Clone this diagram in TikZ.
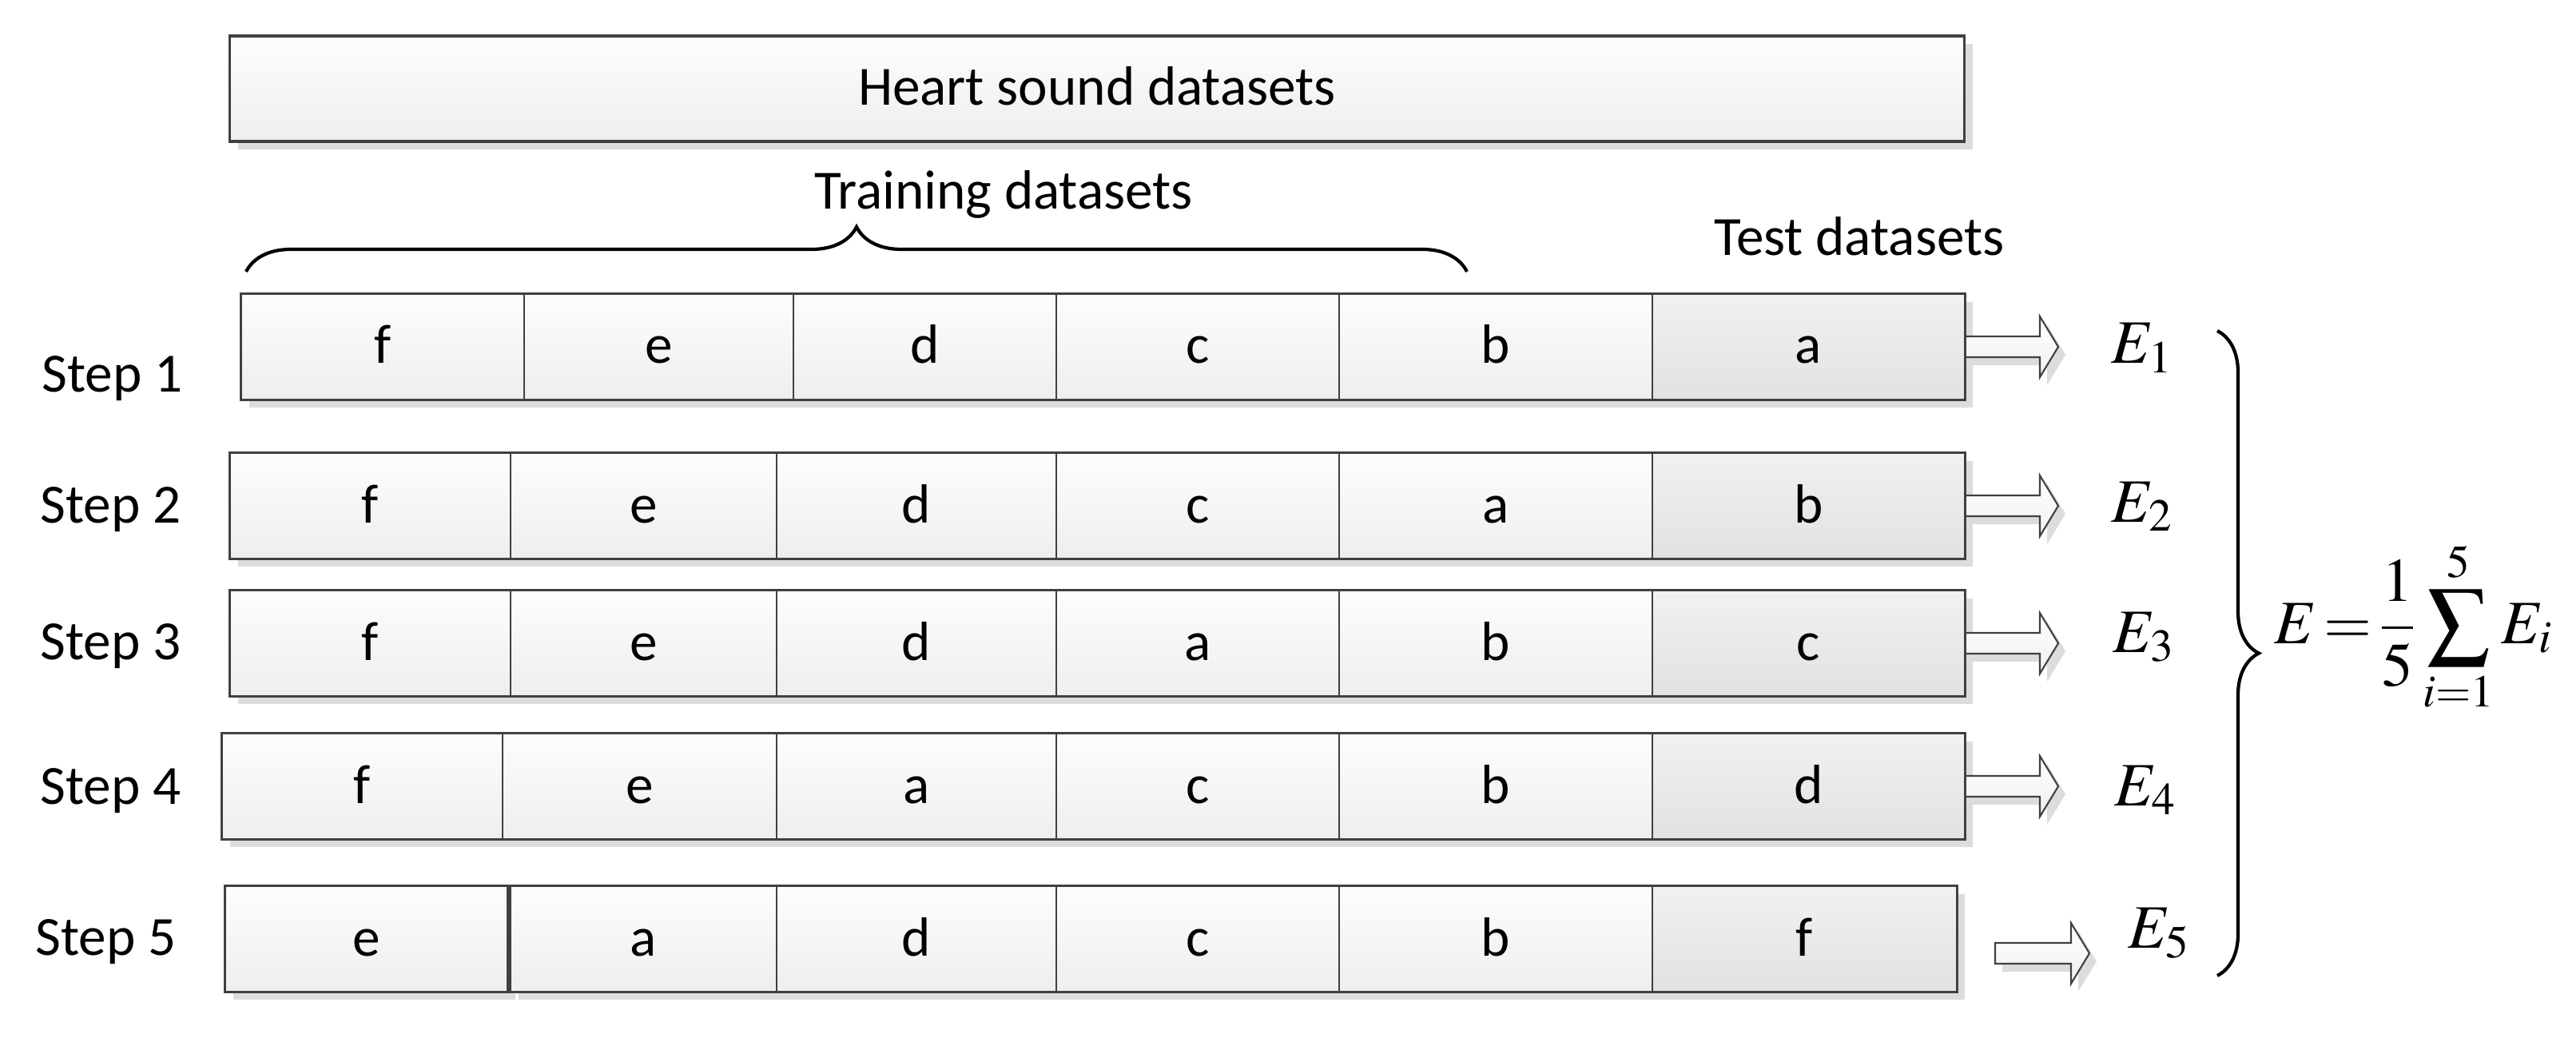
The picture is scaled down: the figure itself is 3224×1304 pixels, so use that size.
\documentclass[tikz,border=0pt]{standalone}
\usepackage{mathptmx}
\usepackage{fontspec}
\setmainfont{Carlito}
\usetikzlibrary{positioning, calc, shadows, decorations.pathreplacing}
\definecolor{edgecolor}{RGB}{64,64,64}
\definecolor{shadecolor}{RGB}{220,220,220}
\definecolor{traintop}{RGB}{253,253,253}
\definecolor{trainbottom}{RGB}{238,238,238}
\definecolor{testtop}{RGB}{241,241,241}
\definecolor{testbottom}{RGB}{226,226,226}
\newcommand{\labelfont}{\fontsize{19.7}{23}\selectfont}
\newcommand{\eqfont}{\fontsize{22}{26}\selectfont}
\newcommand{\blockarrow}[2]{%
  \fill[shadecolor] ($(#1)+(9,-3)$) -- ($(#2)+(-14,-3)$) -- ($(#2)+(-14,-28)$) -- ($(#2)+(9,10)$)
    -- ($(#2)+(-14,48)$) -- ($(#2)+(-14,23)$) -- ($(#1)+(9,23)$) -- cycle;
  \draw[arrowbox] ($(#1)+(0,-13)$) -- ($(#2)+(-23,-13)$) -- ($(#2)+(-23,-38)$) -- (#2)
    -- ($(#2)+(-23,38)$) -- ($(#2)+(-23,13)$) -- ($(#1)+(0,13)$) -- cycle;}
\tikzset{
  cellbox/.style={draw=edgecolor, line width=0.4pt, top color=traintop, bottom color=trainbottom,
    minimum height=13.2mm, inner sep=0pt, text height=4.2mm, text depth=0mm, font=\labelfont,
    drop shadow={shadow xshift=1mm, shadow yshift=-1mm, fill=shadecolor, opacity=1}},
  testbox/.style={cellbox, top color=testtop, bottom color=testbottom},
  rowline/.style={draw=edgecolor, line width=0.9pt},
  arrowbox/.style={draw=edgecolor, line width=0.6pt, top color=white, bottom color=black!6},
  bracestyle/.style={decorate, decoration={brace, amplitude=#1}, line width=1.2pt},
  steplabel/.style={anchor=base west, font=\labelfont, inner sep=0pt},
  errlabel/.style={anchor=base west, font=\eqfont, inner sep=0pt}
}

\begin{document}
\begin{tikzpicture}[x=0.1mm, y=-0.1mm]
\useasboundingbox (0,0) rectangle (3224,1304);

% whole dataset
\node[cellbox, line width=0.9pt, minimum width=217.1mm] (heart) at (1373,111) {Heart sound datasets};

% Step 1
\foreach \l/\r/\t/\s [count=\j] in {302/656/f/cellbox, 656/993/e/cellbox, 993/1322/d/cellbox,
    1322/1676/c/cellbox, 1676/2068/b/cellbox, 2068/2459/a/testbox}
  \node[\s, minimum width={(\r-\l)*0.1mm}] (r1c\j) at ({(\l+\r)/2},434) {\t};
\draw[rowline] (r1c1.north west) rectangle (r1c6.south east);

% Step 2
\foreach \l/\r/\t/\s [count=\j] in {288/639/f/cellbox, 639/972/e/cellbox, 972/1322/d/cellbox,
    1322/1676/c/cellbox, 1676/2068/a/cellbox, 2068/2459/b/testbox}
  \node[\s, minimum width={(\r-\l)*0.1mm}] (r2c\j) at ({(\l+\r)/2},633) {\t};
\draw[rowline] (r2c1.north west) rectangle (r2c6.south east);

% Step 3
\foreach \l/\r/\t/\s [count=\j] in {288/639/f/cellbox, 639/972/e/cellbox, 972/1322/d/cellbox,
    1322/1676/a/cellbox, 1676/2068/b/cellbox, 2068/2459/c/testbox}
  \node[\s, minimum width={(\r-\l)*0.1mm}] (r3c\j) at ({(\l+\r)/2},805) {\t};
\draw[rowline] (r3c1.north west) rectangle (r3c6.south east);

% Step 4
\foreach \l/\r/\t/\s [count=\j] in {278/629/f/cellbox, 629/972/e/cellbox, 972/1322/a/cellbox,
    1322/1676/c/cellbox, 1676/2068/b/cellbox, 2068/2459/d/testbox}
  \node[\s, minimum width={(\r-\l)*0.1mm}] (r4c\j) at ({(\l+\r)/2},984) {\t};
\draw[rowline] (r4c1.north west) rectangle (r4c6.south east);

% Step 5
\foreach \l/\r/\t/\s [count=\j] in {282/635/e/cellbox, 639/972/a/cellbox, 972/1322/d/cellbox,
    1322/1676/c/cellbox, 1676/2068/b/cellbox, 2068/2449/f/testbox}
  \node[\s, minimum width={(\r-\l)*0.1mm}] (r5c\j) at ({(\l+\r)/2},1175) {\t};
\draw[rowline] (r5c1.north west) rectangle (r5c1.south east);
\draw[rowline] (r5c2.north west) rectangle (r5c6.south east);

% step names
\node[steplabel] (step1) at (52,491) {Step 1};
\node[steplabel] (step2) at (50,654) {Step 2};
\node[steplabel] (step3) at (50,825) {Step 3};
\node[steplabel] (step4) at (50,1006) {Step 4};
\node[steplabel] (step5) at (44,1195) {Step 5};

% training / test
\coordinate (trainL) at (308,340);
\coordinate (trainR) at (1836,340);
\draw[bracestyle=5.6mm] (trainL) -- (trainR);
\node[font=\labelfont] (train) at (1256,243) {Training datasets};
\node[font=\labelfont] (test) at (2327,296) {Test datasets};

% errors
\node[errlabel] (e1) at (2642,455) {$E_1$};
\node[errlabel] (e2) at (2642,653) {$E_2$};
\node[errlabel] (e3) at (2644,816) {$E_3$};
\node[errlabel] (e4) at (2646,1008) {$E_4$};
\node[errlabel] (e5) at (2663,1186) {$E_5$};

\coordinate (tip1) at (2576,434);
\coordinate (tip2) at (2576,633);
\coordinate (tip3) at (2576,805);
\coordinate (tip4) at (2576,984);
\coordinate (from5) at (2497,1193);
\coordinate (tip5) at (2615,1193);
\foreach \i in {1,...,4} {
  \blockarrow{r\i c6.east}{tip\i}
}
\blockarrow{from5}{tip5}

% average
\coordinate (sumT) at (2775,414);
\coordinate (sumB) at (2775,1221);
\draw[bracestyle=5.2mm] (sumT) -- (sumB);
\node[errlabel] (avg) at (2846,805) {$\displaystyle E\!=\!\frac{1}{5}\sum_{i=1}^{5}E_i$};
\end{tikzpicture}
\end{document}
